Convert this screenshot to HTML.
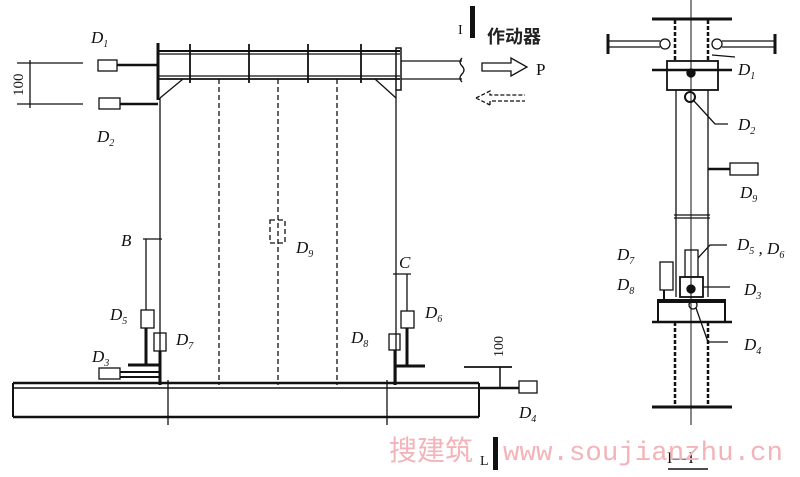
<!DOCTYPE html>
<html><head><meta charset="utf-8"><style>
html,body{margin:0;padding:0;background:#fff}
svg{display:block}
.l{font-family:"Liberation Serif",serif;font-style:italic;font-size:17px;fill:#111}
.s{font-size:10px}
</style></head><body>
<svg width="800" height="477" viewBox="0 0 800 477" xmlns="http://www.w3.org/2000/svg" stroke="#111" fill="none" stroke-width="1.3">
<!-- LEFT VIEW -->
<line x1="158" y1="51" x2="400" y2="51" stroke-width="2"/>
<line x1="158" y1="54" x2="400" y2="54"/>
<line x1="158" y1="76" x2="400" y2="76"/>
<line x1="158" y1="79" x2="400" y2="79" stroke-width="1.8"/>
<line x1="158" y1="43" x2="158" y2="100" stroke-width="3"/>
<rect x="396" y="48" width="5" height="42" stroke-width="1.5"/>
<g stroke-width="1.8">
<line x1="190" y1="44" x2="190" y2="83"/><line x1="249" y1="44" x2="249" y2="83"/>
<line x1="308" y1="44" x2="308" y2="83"/><line x1="361" y1="44" x2="361" y2="83"/>
</g>
<line x1="160" y1="98" x2="183" y2="79"/><line x1="375" y1="79" x2="396" y2="98"/>
<line x1="401" y1="61" x2="462" y2="61"/><line x1="401" y1="79" x2="462" y2="79"/>
<path d="M462 58 q-4 4 0 8 q4 4 0 8 q-4 4 0 8"/>
<line x1="160" y1="98" x2="160" y2="385"/>
<line x1="396" y1="90" x2="396" y2="385"/>
<g stroke-dasharray="5,3">
<line x1="219" y1="79" x2="219" y2="385"/><line x1="278" y1="79" x2="278" y2="385"/><line x1="337" y1="79" x2="337" y2="385"/>
<rect x="270" y="220" width="15" height="23"/>
</g>
<text class="l" x="296" y="253" stroke="none">D<tspan class="s" dy="4">9</tspan></text>
<rect x="98" y="60" width="19" height="11"/>
<line x1="117" y1="65" x2="158" y2="65" stroke-width="2.5"/>
<rect x="99" y="98" width="21" height="11"/>
<line x1="120" y1="104" x2="158" y2="104" stroke-width="2.5"/>
<line x1="17" y1="63" x2="83" y2="63"/><line x1="17" y1="104" x2="83" y2="104"/>
<line x1="30" y1="60" x2="30" y2="108"/>
<text x="0" y="0" transform="translate(23,96) rotate(-90)" font-family="Liberation Serif" font-size="15" fill="#111" stroke="none">100</text>
<text class="l" x="91" y="43" stroke="none">D<tspan class="s" dy="4">1</tspan></text>
<text class="l" x="97" y="142" stroke="none">D<tspan class="s" dy="4">2</tspan></text>
<line x1="146" y1="239" x2="146" y2="310"/>
<line x1="143" y1="239" x2="162" y2="239"/>
<text class="l" x="121" y="246" stroke="none">B</text>
<rect x="141" y="310" width="13" height="18"/>
<rect x="154" y="333" width="12" height="18"/>
<line x1="146" y1="328" x2="146" y2="366" stroke-width="3"/>
<line x1="160" y1="351" x2="160" y2="385" stroke-width="3"/>
<line x1="128" y1="365" x2="160" y2="365" stroke-width="3"/>
<line x1="120" y1="372" x2="160" y2="372" stroke-width="2"/>
<line x1="120" y1="377" x2="160" y2="377" stroke-width="2"/>
<rect x="99" y="368" width="21" height="11"/>
<text class="l" x="110" y="320" stroke="none">D<tspan class="s" dy="4">5</tspan></text>
<text class="l" x="176" y="345" stroke="none">D<tspan class="s" dy="4">7</tspan></text>
<text class="l" x="92" y="362" stroke="none">D<tspan class="s" dy="4">3</tspan></text>
<line x1="393" y1="274" x2="411" y2="274"/>
<line x1="407" y1="274" x2="407" y2="311"/>
<text class="l" x="399" y="268" stroke="none">C</text>
<rect x="401" y="311" width="13" height="17"/>
<rect x="389" y="334" width="11" height="16"/>
<line x1="407" y1="328" x2="407" y2="367" stroke-width="3"/>
<line x1="395" y1="350" x2="395" y2="385" stroke-width="3"/>
<line x1="396" y1="366" x2="425" y2="366" stroke-width="3"/>
<text class="l" x="425" y="318" stroke="none">D<tspan class="s" dy="4">6</tspan></text>
<text class="l" x="351" y="343" stroke="none">D<tspan class="s" dy="4">8</tspan></text>
<line x1="13" y1="383" x2="479" y2="383" stroke-width="2.5"/>
<line x1="13" y1="388" x2="479" y2="388" stroke-width="1.5"/>
<line x1="13" y1="417" x2="479" y2="417" stroke-width="2.5"/>
<line x1="13" y1="383" x2="13" y2="417" stroke-width="2"/>
<line x1="479" y1="383" x2="479" y2="417" stroke-width="2"/>
<line x1="168" y1="380" x2="168" y2="425"/><line x1="387" y1="380" x2="387" y2="425"/>
<line x1="464" y1="367" x2="512" y2="367" stroke-width="1.8"/>
<line x1="500" y1="367" x2="500" y2="388" stroke-width="1.5"/>
<line x1="479" y1="388" x2="519" y2="388" stroke-width="2.5"/>
<rect x="519" y="381" width="18" height="12"/>
<text x="0" y="0" transform="translate(503,357) rotate(-90)" font-family="Liberation Serif" font-size="14" fill="#111" stroke="none">100</text>
<text class="l" x="519" y="418" stroke="none">D<tspan class="s" dy="4">4</tspan></text>
<text x="458" y="34" font-family="Liberation Serif" font-size="14" fill="#111" stroke="none">I</text>
<rect x="470" y="6" width="5" height="32" fill="#111" stroke="none"/>
<text x="487" y="43" font-family="'Noto Sans CJK SC',sans-serif" font-weight="bold" font-size="18" fill="#222" stroke="none">作动器</text>
<path d="M482 63 H511 V58 L527 67 L511 76 V71 H482 Z"/>
<text x="536" y="75" font-family="Liberation Serif" font-size="17" fill="#111" stroke="none">P</text>
<path d="M476 98 L490 91 V95 H525 M490 105 V101 H525 M476 98 L490 105" stroke-dasharray="4,2"/>
<text x="480" y="465" font-family="Liberation Serif" font-size="14" fill="#111" stroke="none">L</text>
<rect x="493" y="437" width="5" height="33" fill="#111" stroke="none"/>

<!-- RIGHT SECTION -->
<line x1="691" y1="0" x2="691" y2="425" stroke-width="1"/>
<line x1="652" y1="19" x2="732" y2="19" stroke-width="3"/>
<g stroke-dasharray="4,2" stroke-width="2.5">
<line x1="675" y1="20" x2="675" y2="62"/><line x1="708" y1="20" x2="708" y2="62"/>
<line x1="675" y1="322" x2="675" y2="405"/><line x1="708" y1="322" x2="708" y2="405"/>
</g>
<line x1="608" y1="41" x2="660" y2="41"/><line x1="608" y1="47" x2="660" y2="47"/>
<circle cx="665" cy="44" r="5"/>
<line x1="722" y1="41" x2="775" y2="41"/><line x1="722" y1="47" x2="775" y2="47"/>
<circle cx="717" cy="44" r="5"/>
<line x1="608" y1="34" x2="608" y2="54" stroke-width="3"/><line x1="775" y1="34" x2="775" y2="54" stroke-width="3"/>
<line x1="652" y1="70" x2="732" y2="70" stroke-width="2.5"/>
<rect x="667" y="61" width="51" height="29" stroke-width="1.8"/>
<circle cx="691" cy="73" r="4" fill="#111"/>
<line x1="676" y1="90" x2="676" y2="297"/><line x1="708" y1="90" x2="708" y2="297"/>
<line x1="674" y1="215" x2="710" y2="215"/><line x1="674" y1="218" x2="710" y2="218"/>
<circle cx="690" cy="97" r="5" stroke-width="2"/>
<path d="M694 101 L715 124 H728"/>
<line x1="712" y1="55" x2="735" y2="57"/>
<text class="l" x="738" y="75" stroke="none">D<tspan class="s" dy="4">1</tspan></text>
<text class="l" x="738" y="130" stroke="none">D<tspan class="s" dy="4">2</tspan></text>
<line x1="708" y1="169" x2="730" y2="169" stroke-width="2.5"/>
<rect x="730" y="163" width="28" height="12"/>
<text class="l" x="740" y="198" stroke="none">D<tspan class="s" dy="4">9</tspan></text>
<rect x="685" y="250" width="13" height="27"/>
<path d="M698 258 L710 245 H727"/>
<text class="l" x="737" y="250" stroke="none">D<tspan class="s" dy="4">5</tspan> , D<tspan class="s" dy="4">6</tspan></text>
<rect x="660" y="262" width="13" height="28"/>
<line x1="664" y1="290" x2="664" y2="302" stroke-width="2"/>
<text class="l" x="617" y="260" stroke="none">D<tspan class="s" dy="4">7</tspan></text>
<text class="l" x="617" y="290" stroke="none">D<tspan class="s" dy="4">8</tspan></text>
<rect x="680" y="277" width="23" height="20" stroke-width="1.8"/>
<circle cx="691" cy="289" r="4" fill="#111"/>
<line x1="703" y1="287" x2="730" y2="287"/>
<text class="l" x="744" y="295" stroke="none">D<tspan class="s" dy="4">3</tspan></text>
<rect x="658" y="300" width="67" height="22" stroke-width="2"/>
<line x1="658" y1="301" x2="725" y2="301" stroke-width="4"/>
<line x1="652" y1="322" x2="732" y2="322" stroke-width="2.5"/>
<circle cx="693" cy="305" r="4"/>
<path d="M696 308 L708 342 H728"/>
<text class="l" x="744" y="350" stroke="none">D<tspan class="s" dy="4">4</tspan></text>
<line x1="652" y1="407" x2="732" y2="407" stroke-width="3"/>
<text x="667" y="463" font-family="Liberation Serif" font-size="16" fill="#111" stroke="none">I—I</text>
<line x1="668" y1="469" x2="708" y2="469" stroke-width="1.5"/>

<text x="389" y="460" font-family="'Noto Sans CJK SC',sans-serif" font-size="28" fill="#f3b3b8" stroke="none">搜建筑</text>
<text x="503" y="460" font-family="'Liberation Mono',monospace" font-size="27" fill="#f3b3b8" stroke="none" textLength="280" lengthAdjust="spacingAndGlyphs">www.soujianzhu.cn</text>
</svg>
</body></html>
